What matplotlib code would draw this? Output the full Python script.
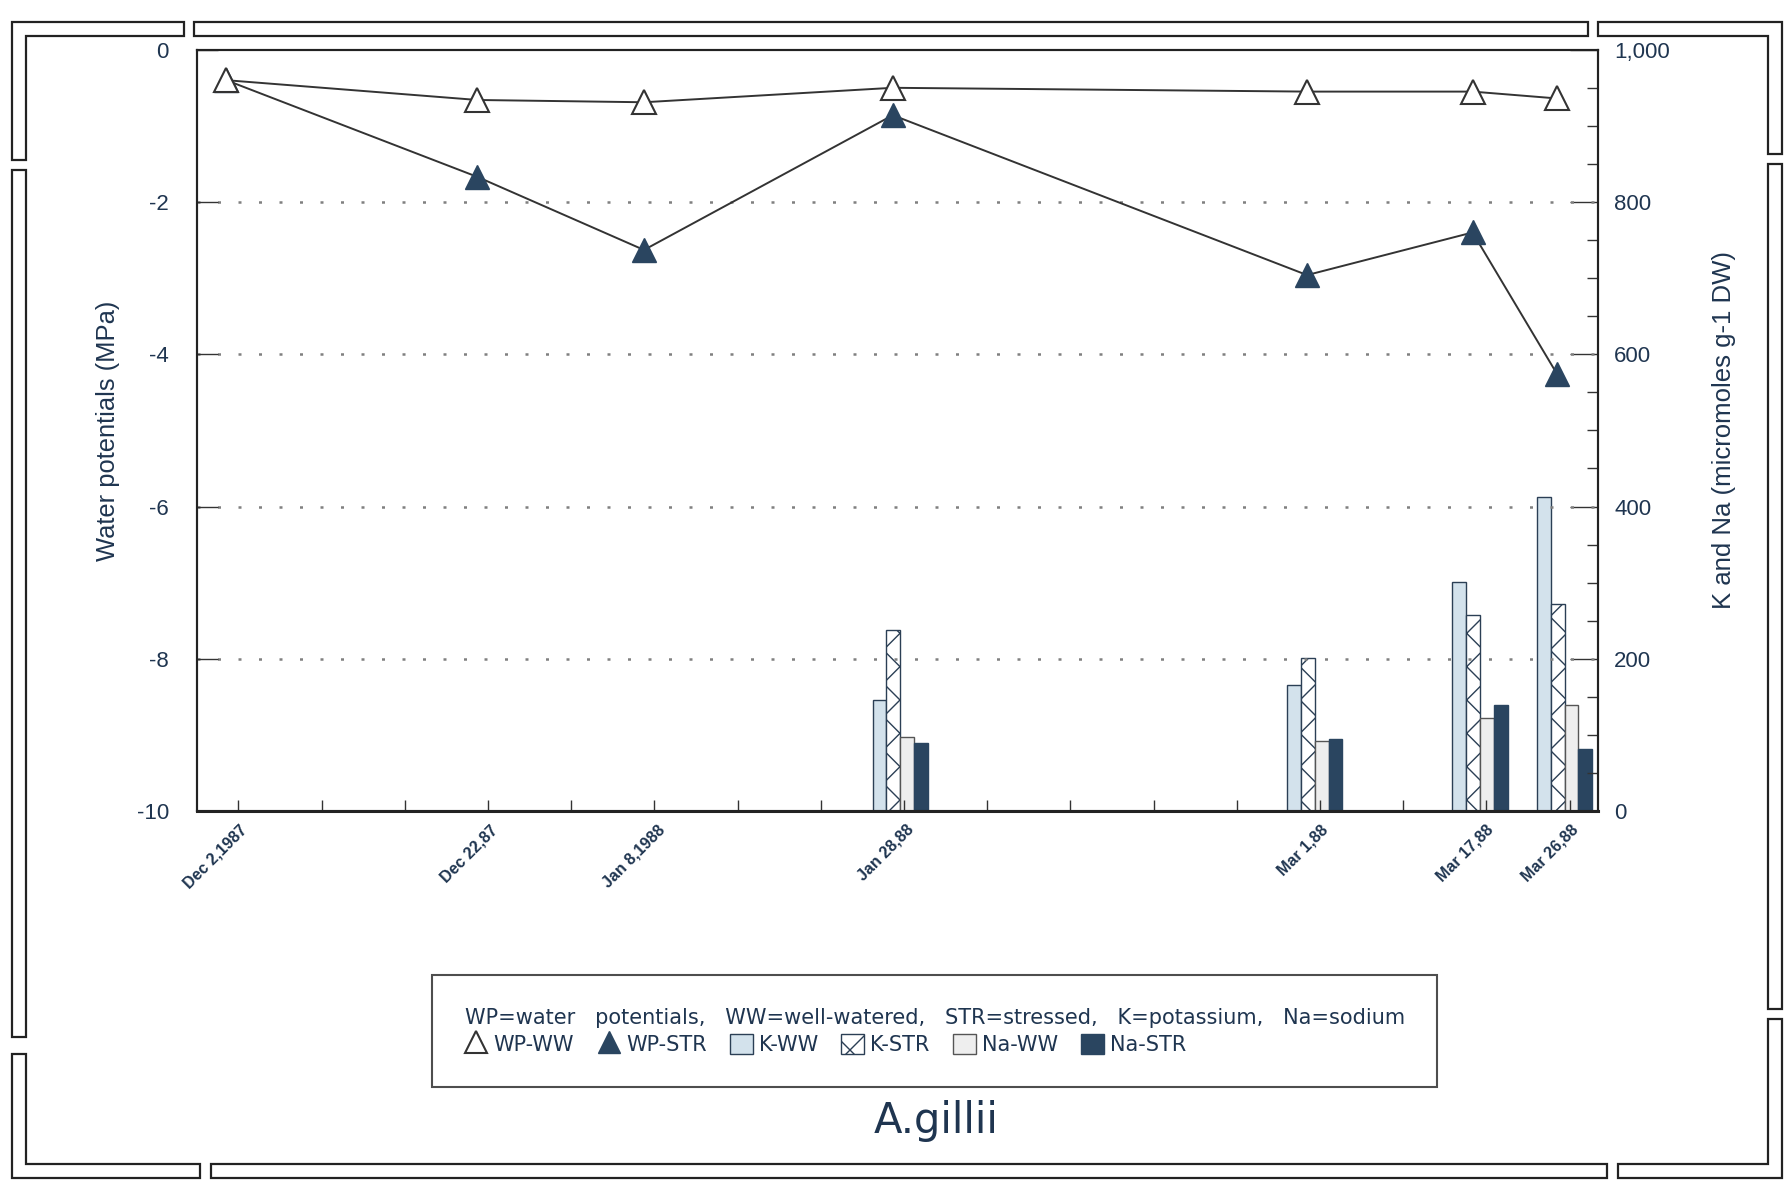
import numpy as np
import matplotlib
matplotlib.use('Agg')
import matplotlib.pyplot as plt
from matplotlib.patches import Patch, Polygon
from matplotlib.lines import Line2D
from matplotlib.ticker import MultipleLocator, FuncFormatter, FixedLocator
from matplotlib.transforms import ScaledTranslation

plt.rcParams['font.family'] = ['Liberation Sans', 'DejaVu Sans']
plt.rcParams['axes.unicode_minus'] = False
plt.rcParams['hatch.linewidth'] = 1.0

# sampling dates, placed where the chart puts them (day-like units from Dec 2)
dates = ['Dec 2,1987', 'Dec 22,87', 'Jan 8,1988', 'Jan 28,88',
         'Mar 1,88', 'Mar 17,88', 'Mar 26,88']
x_pos = [0, 21.7, 36.1, 57.6, 93.4, 107.7, 115.0]

# water potentials (MPa)
wp_ww = [-0.40, -0.66, -0.69, -0.50, -0.55, -0.55, -0.64]
wp_str = [-0.40, -1.67, -2.63, -0.86, -2.96, -2.40, -4.26]

# K and Na (micromoles g-1 DW), only the last four dates
ion_pos = [57.6, 93.4, 107.7, 115.0]
k_ww = [146, 165, 301, 412]
k_str = [238, 201, 258, 272]
na_ww = [97, 92, 122, 139]
na_str = [89, 94, 139, 82]

navy = '#1f3550'
dark = '#2a4560'

fig = plt.figure(figsize=(17.87, 11.84), dpi=100)
ax = fig.add_axes([0.110, 0.315, 0.784, 0.643])
ax2 = ax.twinx()
ax.set_zorder(ax2.get_zorder() + 1)
ax.patch.set_visible(False)

# bars on the right scale
w = 1.2
ip = np.array(ion_pos)
ax2.bar(ip - 1.15, k_ww, w, color='#d3e2ec', edgecolor='#2b3f55', lw=1)
ax2.bar(ip + 0.05, k_str, w, color='white', edgecolor='#2b3f55', lw=1, hatch='x')
ax2.bar(ip + 1.25, na_ww, w, color='#eeeeee', edgecolor='#555555', lw=1)
ax2.bar(ip + 2.45, na_str, w, color=dark, edgecolor=dark, lw=1)

# water potential lines on the left scale
ax.plot(x_pos, wp_str, color='#333333', lw=1.4, marker='^', ms=17,
        mfc=dark, mec=dark, zorder=3)
ax.plot(x_pos, wp_ww, color='#333333', lw=1.4, marker='^', ms=17,
        mfc='white', mec='#333333', mew=1.5, zorder=4)

for v in [-2, -4, -6, -8]:
    ax.axhline(v, color='#808080', lw=1.8, ls=(0, (1.2, 7)), zorder=1)

ax.set_xlim(-2.56, 118.5)
ax.set_ylim(-10, 0)
ax2.set_ylim(0, 1000)

# x axis
ax.set_xticks(x_pos)
ax.set_xticklabels(dates, rotation=45, ha='right', va='top',
                   rotation_mode='anchor', fontsize=11.5, fontweight='bold',
                   color=navy)
ax.xaxis.set_minor_locator(FixedLocator(np.arange(1.05, 118.5, 7.19)))
ax.tick_params(axis='x', which='major', length=0, pad=8)
ax.tick_params(axis='x', which='minor', direction='in', length=8, width=1, color='#333')
off = ScaledTranslation(0.13, 0, fig.dpi_scale_trans)
for lbl in ax.get_xticklabels():
    lbl.set_transform(lbl.get_transform() + off)

# left axis
ax.set_yticks([0, -2, -4, -6, -8, -10])
ax.tick_params(axis='y', direction='in', length=15, width=1, pad=20,
               labelsize=16, labelcolor=navy, color='#333')
ax.set_ylabel('Water potentials (MPa)', fontsize=18.4, color=navy)
ax.yaxis.set_label_coords(-0.055, 0.5)

# right axis
ax2.yaxis.set_major_locator(MultipleLocator(200))
ax2.yaxis.set_minor_locator(MultipleLocator(50))
ax2.yaxis.set_major_formatter(FuncFormatter(lambda v, _: f'{int(v):,}'))
ax2.tick_params(axis='y', which='major', direction='in', length=20, width=1,
                pad=12, labelsize=16, labelcolor=navy, color='#333')
ax2.tick_params(axis='y', which='minor', direction='in', length=8, width=1, color='#333')
ax2.set_ylabel('K and Na (micromoles g-1 DW)', fontsize=18.5, color=navy)
ax2.yaxis.set_label_coords(1.0815, 0.5)

for a in (ax, ax2):
    for s in a.spines.values():
        s.set_color('#222222')
        s.set_linewidth(1.5)
ax.spines['bottom'].set_linewidth(2.2)

# legend
handles = [
    Line2D([], [], ls='none', marker='^', ms=16, mfc='white', mec='#333', mew=1.5),
    Line2D([], [], ls='none', marker='^', ms=16, mfc=dark, mec=dark),
    Patch(facecolor='#d3e2ec', edgecolor='#2b3f55'),
    Patch(facecolor='white', edgecolor='#2b3f55', hatch='x'),
    Patch(facecolor='#eeeeee', edgecolor='#555555'),
    Patch(facecolor=dark, edgecolor=dark),
]
names = ['WP-WW', 'WP-STR', 'K-WW', 'K-STR', 'Na-WW', 'Na-STR']
leg = fig.legend(handles, names, ncol=6, loc='center',
                 bbox_to_anchor=(0.523, 0.129),
                 title='WP=water   potentials,   WW=well-watered,   STR=stressed,   '
                       'K=potassium,   Na=sodium',
                 prop={'family': 'DejaVu Sans', 'size': 15},
                 title_fontproperties={'family': 'DejaVu Sans', 'size': 15},
                 alignment='left',
                 frameon=True, fancybox=False, edgecolor='#222', borderpad=1.55,
                 handlelength=1.1, handleheight=1.1, handletextpad=0.3,
                 columnspacing=1.1, labelspacing=0.3)
leg.get_frame().set_linewidth(1.5)
for t in leg.get_texts():
    t.set_color(navy)
leg.get_title().set_color(navy)

fig.text(0.524, 0.053, 'A.gillii', fontsize=30, family='DejaVu Sans', color=navy,
         ha='center', va='center')

# page border made of double-line strips
W, H = 1787.0, 1184.0
xo_l, xi_l = 12, 26
yo_t, yi_t = 22, 36
xo_r, xi_r = 1782, 1768
yo_b, yi_b = 1178, 1164


def strip(pts):
    p = [(x / W, 1 - y / H) for x, y in pts]
    fig.add_artist(Polygon(p, closed=True, fill=False, ec='#222222', lw=1.6,
                           transform=fig.transFigure))


def rect(x0, y0, x1, y1):
    strip([(x0, y0), (x1, y0), (x1, y1), (x0, y1)])


strip([(184, yo_t), (xo_l, yo_t), (xo_l, 160), (xi_l, 160), (xi_l, yi_t), (184, yi_t)])
rect(194, yo_t, 1588, yi_t)
strip([(1598, yo_t), (xo_r, yo_t), (xo_r, 154), (xi_r, 154), (xi_r, yi_t), (1598, yi_t)])
rect(xi_r, 164, xo_r, 1009)
strip([(xo_r, 1019), (xo_r, yo_b), (1618, yo_b), (1618, yi_b), (xi_r, yi_b), (xi_r, 1019)])
rect(211, yi_b, 1607, yo_b)
strip([(200, yo_b), (xo_l, yo_b), (xo_l, 1054), (xi_l, 1054), (xi_l, yi_b), (200, yi_b)])
rect(xo_l, 170, xi_l, 1037)

fig.savefig('out.png', dpi=100)
